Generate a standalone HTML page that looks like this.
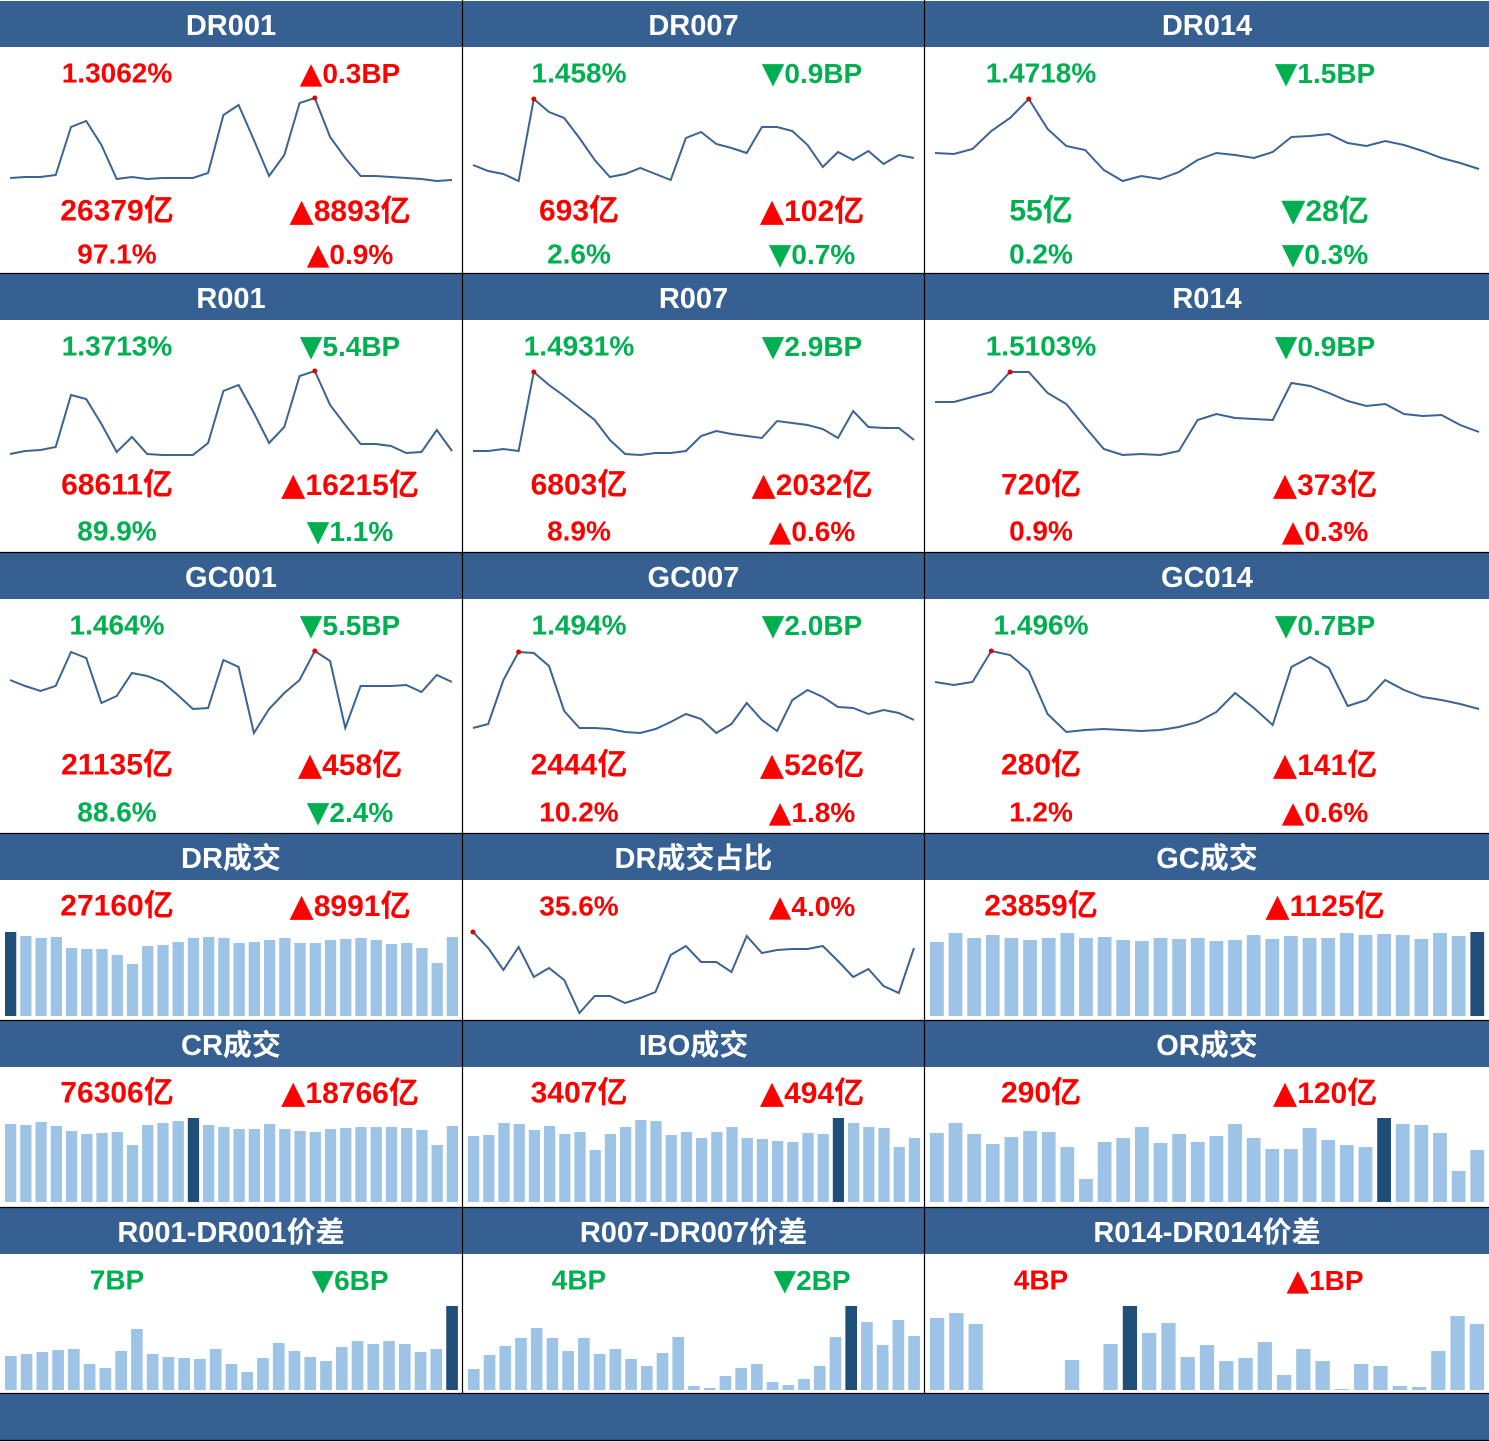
<!DOCTYPE html>
<html><head><meta charset="utf-8"><style>
body{margin:0;background:#fff}
svg{display:block;font-family:"Liberation Sans","Noto Sans CJK SC",sans-serif}
</style></head><body>
<svg id="c" width="1489" height="1442" viewBox="0 0 1489 1442" xmlns="http://www.w3.org/2000/svg"></svg>
<script>
// ---- line series (relative levels) ----
const dr001Line=[22,23,23,25,73,79,55,21,23,21,22,22,22,27,85,95,60,24,45,97,102,63,42,24,24,23,22,21,19,20];
const dr007Line=[35,29,26,19,101,88,82,62,40,23,26,32,26,20,62,68,56,52,47,73,73,69,55,33,48,40,49,36,45,42];
const dr014Line=[47,46,51,69,82,101,71,54,50,30,19,24,21,28,40,47,45,42,48,63,64,66,57,54,59,55,49,42,37,31];
const r001Line=[19,22,23,26,78,74,49,21,36,19,18,18,18,30,82,88,60,30,46,97,102,68,48,29,29,27,20,21,43,22];
const r007Line=[22,22,24,22,101,88,77,65,53,33,19,18,20,20,22,37,42,39,37,35,52,50,48,44,35,62,46,45,45,33];
const r014Line=[71,71,76,81,101,101,80,69,46,24,18,19,18,22,53,59,55,54,53,90,87,80,72,67,69,59,57,58,48,41];
const gc001Line=[72,66,61,66,100,94,49,56,79,76,70,57,43,44,92,85,19,43,59,72,101,91,24,66,66,66,67,60,77,70];
const gc007Line=[24,28,72,100,99,86,41,24,24,23,20,19,23,30,38,33,19,28,49,32,21,52,62,55,45,44,38,42,39,32];
const gc014Line=[70,67,70,101,97,81,38,20,22,23,22,21,22,25,30,40,59,44,27,85,95,84,46,52,72,62,55,52,48,43];
const drShareLine=[101,85,63,86,56,65,53,20,37,37,30,35,41,78,87,71,71,61,97,80,83,84,84,87,72,56,64,47,40,85];
// ---- bar series ----
const drVol=[84,80,78,79,68,67,67,61,52,70,71,74,78,79,78,73,74,76,78,73,73,76,77,78,76,72,73,68,53,79];
const gcVol=[74,83,78,81,78,76,78,83,78,79,76,75,78,77,78,75,76,81,77,80,78,78,83,81,82,81,77,83,80,84];
const crVol=[78,77,80,76,71,68,69,70,57,77,79,81,84,77,75,73,73,78,73,71,70,73,74,75,75,75,74,72,57,76];
const iboVol=[66,67,79,78,72,76,68,70,52,68,75,82,81,67,70,64,70,75,64,63,61,60,69,68,84,79,75,74,55,64];
const orVol=[69,79,68,58,65,71,70,55,23,60,64,75,59,68,60,66,78,64,53,53,74,62,57,55,84,78,77,69,31,52];
const spread001=[34,36,38,40,41,26,22,39,61,36,33,32,31,41,26,18,32,47,39,33,29,43,49,46,49,46,38,41,84];
const spread007=[21,35,44,52,62,52,39,52,36,41,31,24,37,53,4,2,14,22,26,8,5,11,24,53,84,68,45,70,54];
const spread014=[72,77,66,0,0,0,0,30,0,46,84,57,67,33,45,29,32,48,15,41,29,1,26,24,4,3,39,74,66];
const drVolDark=0, gcVolDark=29, crVolDark=12, iboVolDark=24, orVolDark=24, s001Dark=28, s007Dark=24, s014Dark=10;

const NS="http://www.w3.org/2000/svg";
const svg=document.getElementById('c');
const RED="#ff0000", GRN="#00b050";
const cols=[[0,462],[463,924],[925,1489]];
function mk(tag,attrs,parent){const e=document.createElementNS(NS,tag);for(const k in attrs)e.setAttribute(k,attrs[k]);(parent||svg).appendChild(e);return e;}
function txt(x,y,s,color,size,name){
  const t=mk('text',{x:x,y:y,'text-anchor':'middle','dominant-baseline':'central','font-size':size,'font-weight':'bold',fill:color});
  const m=s.match(/^([▲▼])(.*)$/);
  if(m){
    const a=mk('tspan',{'font-size':size*1.05,'font-family':'"DejaVu Sans",sans-serif'},t);
    a.textContent=m[1];
    const b=mk('tspan',{},t);
    b.textContent=m[2];
  } else t.textContent=s;
  
  
  return t;
}
function header(ci,top,label){
  const [l,r]=cols[ci];
  const g=mk('g',{});
  
  
  mk('rect',{x:l,y:top,width:r-l+1,height:46,fill:'#366092'},g);
  const t=mk('text',{x:(l+r)/2,y:top+25,'text-anchor':'middle','dominant-baseline':'central','font-size':29,'font-weight':'bold',fill:'#fff'},g);
  t.textContent=label;
  
  
}
function line(ci,base,vals,name){
  const [l,r]=cols[ci];
  const x0=l+10,x1=r-10;
  const xs=i=>x0+(x1-x0)*i/(vals.length-1);
  const ys=v=>base-v;
  const d=vals.map((v,i)=>(i?'L':'M')+xs(i).toFixed(1)+','+ys(v).toFixed(1)).join('');
  const p=mk('path',{d:d,fill:'none',stroke:'#3b6494','stroke-width':2});
  
  
  let mi=0;vals.forEach((v,i)=>{if(v>vals[mi])mi=i;});
  const c=mk('circle',{cx:xs(mi),cy:ys(vals[mi]),r:2.5,fill:'#e00000'});
  
  
}
function bars(ci,bottom,vals,dark,name){
  const [l,r]=cols[ci];
  const x0=l+5;
  const slot=(r-l-5)/vals.length, w=slot*0.74;
  vals.forEach((v,i)=>{
    const b=mk('rect',{x:x0+i*slot,y:bottom-v,width:w,height:Math.max(v,0),fill:i===dark?'#1f4e79':'#9dc3e6'});
    
    
  });
}
const cx=ci=>[117,579,1041][ci], rx=ci=>[350,812,1325][ci];

const rows=[
 {top:1,pan:[
  ['DR001',dr001Line,['1.3062%',RED],['▲0.3BP',RED],['26379亿',RED],['▲8893亿',RED],['97.1%',RED],['▲0.9%',RED]],
  ['DR007',dr007Line,['1.458%',GRN],['▼0.9BP',GRN],['693亿',RED],['▲102亿',RED],['2.6%',GRN],['▼0.7%',GRN]],
  ['DR014',dr014Line,['1.4718%',GRN],['▼1.5BP',GRN],['55亿',GRN],['▼28亿',GRN],['0.2%',GRN],['▼0.3%',GRN]]],
  l1:73,l2:211,l3:254},
 {top:274,pan:[
  ['R001',r001Line,['1.3713%',GRN],['▼5.4BP',GRN],['68611亿',RED],['▲16215亿',RED],['89.9%',GRN],['▼1.1%',GRN]],
  ['R007',r007Line,['1.4931%',GRN],['▼2.9BP',GRN],['6803亿',RED],['▲2032亿',RED],['8.9%',RED],['▲0.6%',RED]],
  ['R014',r014Line,['1.5103%',GRN],['▼0.9BP',GRN],['720亿',RED],['▲373亿',RED],['0.9%',RED],['▲0.3%',RED]]],
  l1:346,l2:485,l3:531},
 {top:553,pan:[
  ['GC001',gc001Line,['1.464%',GRN],['▼5.5BP',GRN],['21135亿',RED],['▲458亿',RED],['88.6%',GRN],['▼2.4%',GRN]],
  ['GC007',gc007Line,['1.494%',GRN],['▼2.0BP',GRN],['2444亿',RED],['▲526亿',RED],['10.2%',RED],['▲1.8%',RED]],
  ['GC014',gc014Line,['1.496%',GRN],['▼0.7BP',GRN],['280亿',RED],['▲141亿',RED],['1.2%',RED],['▲0.6%',RED]]],
  l1:625,l2:765,l3:812}
];
rows.forEach(row=>{
  row.pan.forEach((p,ci)=>{
    header(ci,row.top,p[0]);
    const base=row.top+47+152;
    line(ci,base,p[1],p[0].toLowerCase()+'-rate-line');
    txt(cx(ci),row.l1,p[2][0],p[2][1],28,'rate-value');
    txt(rx(ci),row.l1,p[3][0],p[3][1],28,'rate-change');
    txt(cx(ci),row.l2,p[4][0],p[4][1],30,'volume-value');
    txt(rx(ci),row.l2,p[5][0],p[5][1],30,'volume-change');
    txt(cx(ci),row.l3,p[6][0],p[6][1],28,'share-value');
    txt(rx(ci),row.l3,p[7][0],p[7][1],28,'share-change');
  });
});
header(0,834,'DR成交');header(1,834,'DR成交占比');header(2,834,'GC成交');
txt(cx(0),906,'27160亿',RED,30,'dr-volume');txt(rx(0),906,'▲8991亿',RED,30,'dr-volume-change');
txt(cx(1),906,'35.6%',RED,28,'dr-share');txt(rx(1),906,'▲4.0%',RED,28,'dr-share-change');
txt(cx(2),906,'23859亿',RED,30,'gc-volume');txt(rx(2),906,'▲1125亿',RED,30,'gc-volume-change');
bars(0,1016,drVol,drVolDark,'dr-volume');
line(1,1033,drShareLine,'dr-share-line');
bars(2,1016,gcVol,gcVolDark,'gc-volume');
header(0,1021,'CR成交');header(1,1021,'IBO成交');header(2,1021,'OR成交');
txt(cx(0),1093,'76306亿',RED,30,'cr-volume');txt(rx(0),1093,'▲18766亿',RED,30,'cr-volume-change');
txt(cx(1),1093,'3407亿',RED,30,'ibo-volume');txt(rx(1),1093,'▲494亿',RED,30,'ibo-volume-change');
txt(cx(2),1093,'290亿',RED,30,'or-volume');txt(rx(2),1093,'▲120亿',RED,30,'or-volume-change');
bars(0,1202,crVol,crVolDark,'cr-volume');
bars(1,1202,iboVol,iboVolDark,'ibo-volume');
bars(2,1202,orVol,orVolDark,'or-volume');
header(0,1208,'R001-DR001价差');header(1,1208,'R007-DR007价差');header(2,1208,'R014-DR014价差');
txt(cx(0),1280,'7BP',GRN,28,'spread-001');txt(rx(0),1280,'▼6BP',GRN,28,'spread-001-change');
txt(cx(1),1280,'4BP',GRN,28,'spread-007');txt(rx(1),1280,'▼2BP',GRN,28,'spread-007-change');
txt(cx(2),1280,'4BP',RED,28,'spread-014');txt(rx(2),1280,'▲1BP',RED,28,'spread-014-change');
bars(0,1390,spread001,s001Dark,'spread-001');
bars(1,1390,spread007,s007Dark,'spread-007');
bars(2,1390,spread014,s014Dark,'spread-014');
const bb=mk('rect',{x:0,y:1394,width:1489,height:46,fill:'#366092'});


[462.5,924.5].forEach(x=>mk('line',{x1:x,y1:0,x2:x,y2:1394,stroke:'#000','stroke-width':1.2}));
[273.5,552.5,833.5,1020.5,1207.5,1393.5,1440.5].forEach(y=>mk('line',{x1:0,y1:y,x2:1489,y2:y,stroke:'#000','stroke-width':1.2}));
</script>
</body></html>
